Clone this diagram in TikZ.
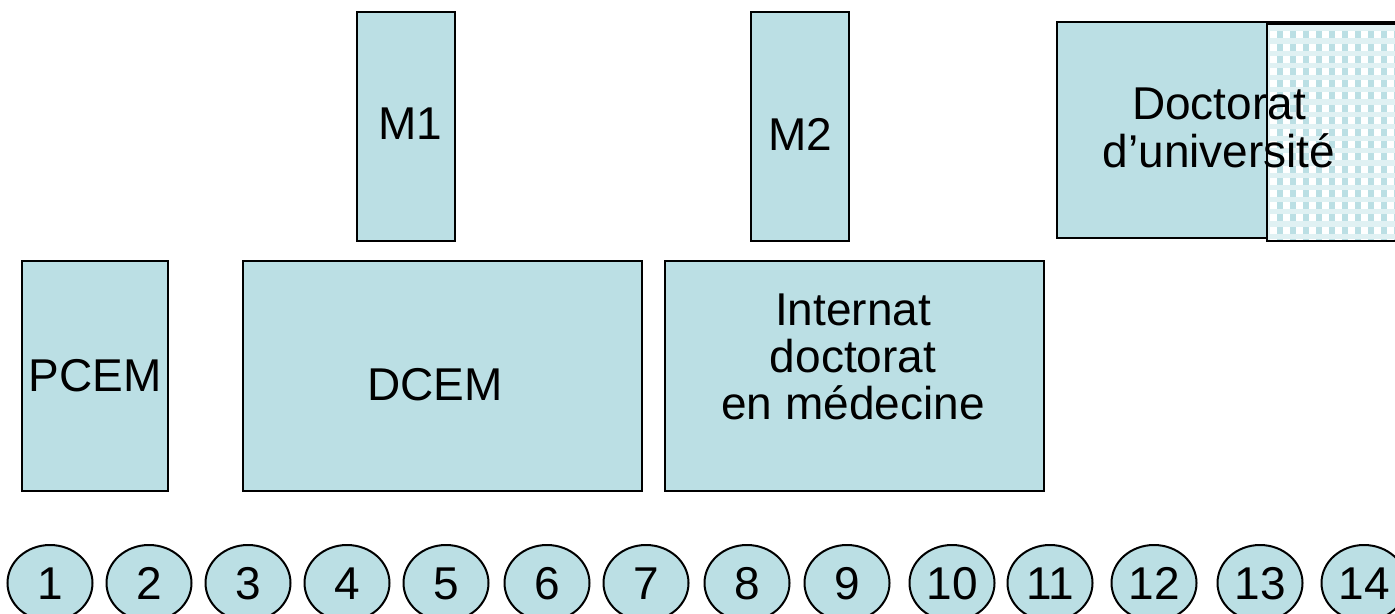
\documentclass[tikz,border=0pt]{standalone}
\usepackage{fontspec}
\setmainfont{Liberation Sans}
\usetikzlibrary{shapes.geometric}

\definecolor{paleblue}{RGB}{187,223,228}

\tikzset{
    block/.style={draw, rectangle, fill=paleblue, line width=1pt, inner sep=0pt},
    txt/.style={align=center, inner sep=0pt, font=\fontsize{23}{23.5}\selectfont},
    year/.style={draw, ellipse, fill=paleblue, line width=1pt, inner sep=0pt,
        minimum width=42.5pt, minimum height=38pt, text height=16.5pt, text depth=0pt,
        font=\fontsize{23}{23.5}\selectfont},
}

\begin{document}
\begin{tikzpicture}[x=0.5pt, y=-0.5pt]

    \clip (0,0) rectangle (1395,614);

    % Nodes
    \node [block, txt, minimum width=73pt, minimum height=115pt] at (95,376) (PCEM) {PCEM};
    \node [block, minimum width=199.5pt, minimum height=115pt] at (442.5,376) (DCEM) {};
    \node [txt] at (435,385) (DCEMtext) {DCEM};
    \node [block, minimum width=189.5pt, minimum height=115pt] at (854.5,376) (internat) {};
    \node [txt] at (853,357) (internattext) {Internat\\doctorat\\en médecine};
    \node [block, minimum width=49pt, minimum height=114.5pt] at (406,126.5) (M1) {};
    \node [txt] at (410,124) (M1text) {M1};
    \node [block, minimum width=49pt, minimum height=114.5pt] at (800,126.5) (M2) {};
    \node [txt] at (800,134) (M2text) {M2};
    \node [block, minimum width=171.5pt, minimum height=108pt] at (1228.5,130) (doctorat) {};

    % Checked box over the right side of the doctorat
    \begin{scope}
        \clip (1267,24) rectangle (1402,241);
        \fill [paleblue!45!white] (1267,24) rectangle (1402,241);
        \foreach \j in {0,...,17}
            \foreach \i in {0,...,10} {
                \fill [white] (1270+13*\i,31.5+12.2*\j) rectangle +(6.5,7);
                \fill [paleblue] (1276.5+13*\i,31.5+12.2*\j) rectangle +(6.5,7);
            }
    \end{scope}
    \draw [line width=1pt] (1267,24) rectangle (1402,241);

    \node [txt, font=\fontsize{23}{24}\selectfont] at (1219,128) (doctorattext) {Doctorat\\d’université};

    % Years
    \foreach \n/\x in {1/50, 2/149, 3/248, 4/347, 5/446, 6/547, 7/646,
                       8/747, 9/847, 10/952, 11/1050, 12/1154, 13/1260, 14/1364}
        \node [year] at (\x,583) (year\n) {\n};

\end{tikzpicture}
\end{document}
